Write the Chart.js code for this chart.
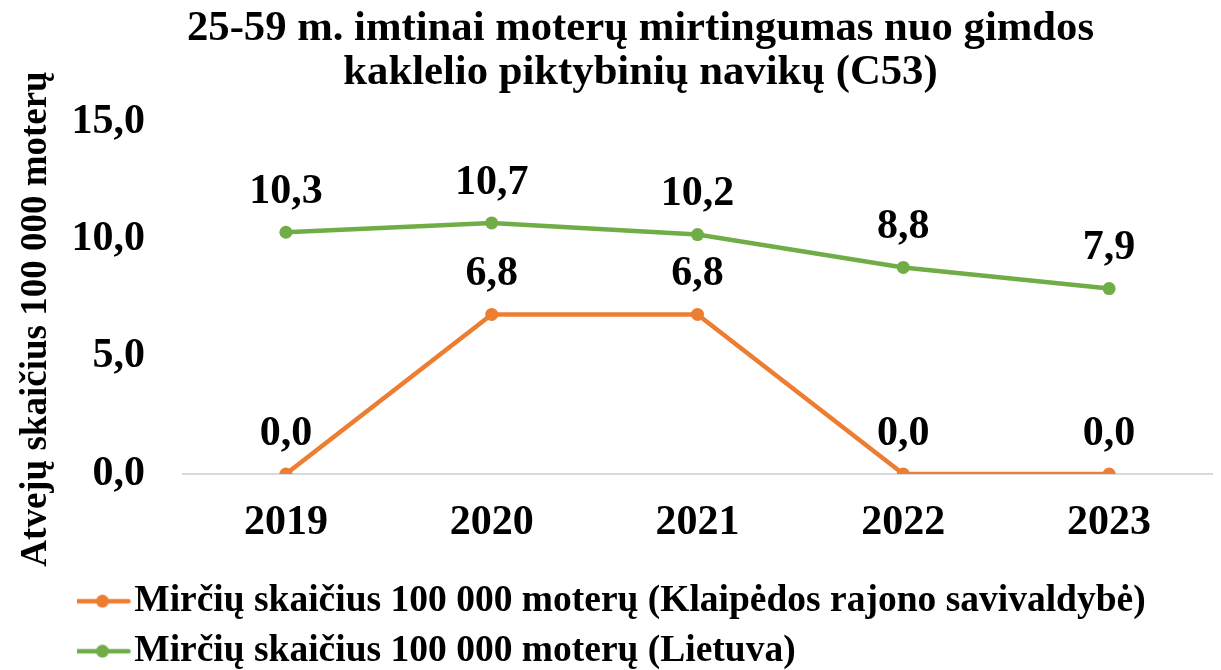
<!DOCTYPE html>
<html>
<head>
<meta charset="utf-8">
<script src="https://cdn.jsdelivr.net/npm/chart.js@4.4.1/dist/chart.umd.min.js"></script>
<style>
  html, body { margin: 0; padding: 0; background: #fff; }
  #wrap { width: 1221px; height: 670px; }
</style>
</head>
<body>
<div id="wrap"><canvas id="line-chart"></canvas></div>
<script>
const years = ['2019', '2020', '2021', '2022', '2023'];
const klaipedaValues = [0.0, 6.8, 6.8, 0.0, 0.0];
const lietuvaValues = [10.3, 10.7, 10.2, 8.8, 7.9];
const yTicks = [0, 5, 10, 15];

const serif = "'Liberation Serif', 'Times New Roman', serif";
const orange = '#ED7D31';
const green = '#70AD47';

const fmt = v => v.toFixed(1).replace('.', ',');

// little line+dot icon for the legend
function legendIcon(color) {
    const c = document.createElement('canvas');
    c.width = 58;
    c.height = 14;
    const g = c.getContext('2d');
    g.strokeStyle = color;
    g.lineWidth = 4.5;
    g.lineCap = 'round';
    g.beginPath();
    g.moveTo(3, 7);
    g.lineTo(55, 7);
    g.stroke();
    g.fillStyle = color;
    g.beginPath();
    g.arc(29, 7, 6.5, 0, Math.PI * 2);
    g.fill();
    return c;
}

const valueLabels = {
    id: 'valueLabels',
    afterDatasetsDraw(chart) {
        const ctx = chart.ctx;
        ctx.save();
        ctx.font = 'bold 42px ' + serif;
        ctx.fillStyle = '#000';
        ctx.textAlign = 'center';
        ctx.textBaseline = 'middle';
        chart.data.datasets.forEach((ds, i) => {
            chart.getDatasetMeta(i).data.forEach((pt, j) => {
                ctx.fillText(fmt(ds.data[j]), pt.x, pt.y - 40);
            });
        });
        ctx.restore();
    }
};

// nudge title, legend and the y title to where the original has them
const boxShift = {
    id: 'boxShift',
    beforeDraw(chart) {
        const lg = chart.legend;
        lg.left = 77;
        lg.top = 570;
        const tb = chart.titleBlock;
        tb.left = 60;
        tb.right = chart.width;
        const ys = chart.scales.y;
        if (!ys._titleMoved) {
            const drawTitle = ys.drawTitle.bind(ys);
            ys.drawTitle = function () {
                const t = this.top;
                this.top = t + 42;
                drawTitle();
                this.top = t;
            };
            ys._titleMoved = true;
        }
    }
};

const canvas = document.querySelector('#line-chart');
const line_chart = new Chart(canvas, {
    type: 'line',
    data: {
        labels: years,
        datasets: [
            {
                label: 'Mirčių skaičius 100 000 moterų (Klaipėdos rajono savivaldybė)',
                data: klaipedaValues,
                borderColor: orange,
                backgroundColor: orange,
                borderWidth: 4.5,
                pointRadius: 6.5,
                pointBackgroundColor: orange,
                pointBorderWidth: 0,
                tension: 0,
            },
            {
                label: 'Mirčių skaičius 100 000 moterų (Lietuva)',
                data: lietuvaValues,
                borderColor: green,
                backgroundColor: green,
                borderWidth: 4.5,
                pointRadius: 6.5,
                pointBackgroundColor: green,
                pointBorderWidth: 0,
                tension: 0,
            }
        ]
    },
    plugins: [valueLabels, boxShift],
    options: {
        responsive: true,
        maintainAspectRatio: false,
        animation: false,
        layout: {
            padding: { left: 0, right: 9, top: 0, bottom: 0 }
        },
        plugins: {
            title: {
                display: true,
                text: ['25-59 m. imtinai moterų mirtingumas nuo gimdos', 'kaklelio piktybinių navikų (C53)'],
                color: '#000',
                font: { family: serif, size: 42.7, weight: 'bold', lineHeight: 1.03 },
                padding: { top: 7, bottom: 27 }
            },
            legend: {
                position: 'bottom',
                align: 'start',
                labels: {
                    color: '#000',
                    font: { family: serif, size: 37.5, weight: 'bold' },
                    usePointStyle: true,
                    pointStyleWidth: 26,
                    padding: 12.5,
                    generateLabels(chart) {
                        return chart.data.datasets.map((ds, i) => ({
                            text: ds.label,
                            datasetIndex: i,
                            pointStyle: legendIcon(ds.borderColor),
                            fillStyle: ds.borderColor,
                            strokeStyle: ds.borderColor,
                            lineWidth: 0,
                            fontColor: '#000',
                            hidden: false
                        }));
                    }
                }
            },
            tooltip: { enabled: false }
        },
        scales: {
            x: {
                offset: true,
                grid: { display: false },
                border: { display: true, color: '#D9D9D9', width: 2 },
                ticks: {
                    color: '#000',
                    font: { family: serif, size: 42, weight: 'bold' },
                    padding: 16
                },
                afterFit(scale) {
                    scale.height = 86;
                }
            },
            y: {
                min: yTicks[0],
                max: yTicks[yTicks.length - 1],
                afterBuildTicks(scale) {
                    scale.ticks = yTicks.map(v => ({ value: v }));
                },
                afterFit(scale) {
                    scale.width = 183;
                },
                grid: {
                    drawTicks: false,
                    color: c => (c.tick && c.tick.value === 0) ? '#D9D9D9' : 'rgba(0,0,0,0)'
                },
                border: { display: false },
                ticks: {
                    color: '#000',
                    font: { family: serif, size: 42, weight: 'bold' },
                    padding: 38,
                    callback: v => fmt(v)
                },
                title: {
                    display: true,
                    text: 'Atvejų skaičius 100 000 moterų',
                    color: '#000',
                    font: { family: serif, size: 37, weight: 'bold' },
                    padding: { top: 14, bottom: 11 }
                }
            }
        }
    }
});

window.addEventListener('resize', () => {
    line_chart.resize();
});
</script>
</body>
</html>
